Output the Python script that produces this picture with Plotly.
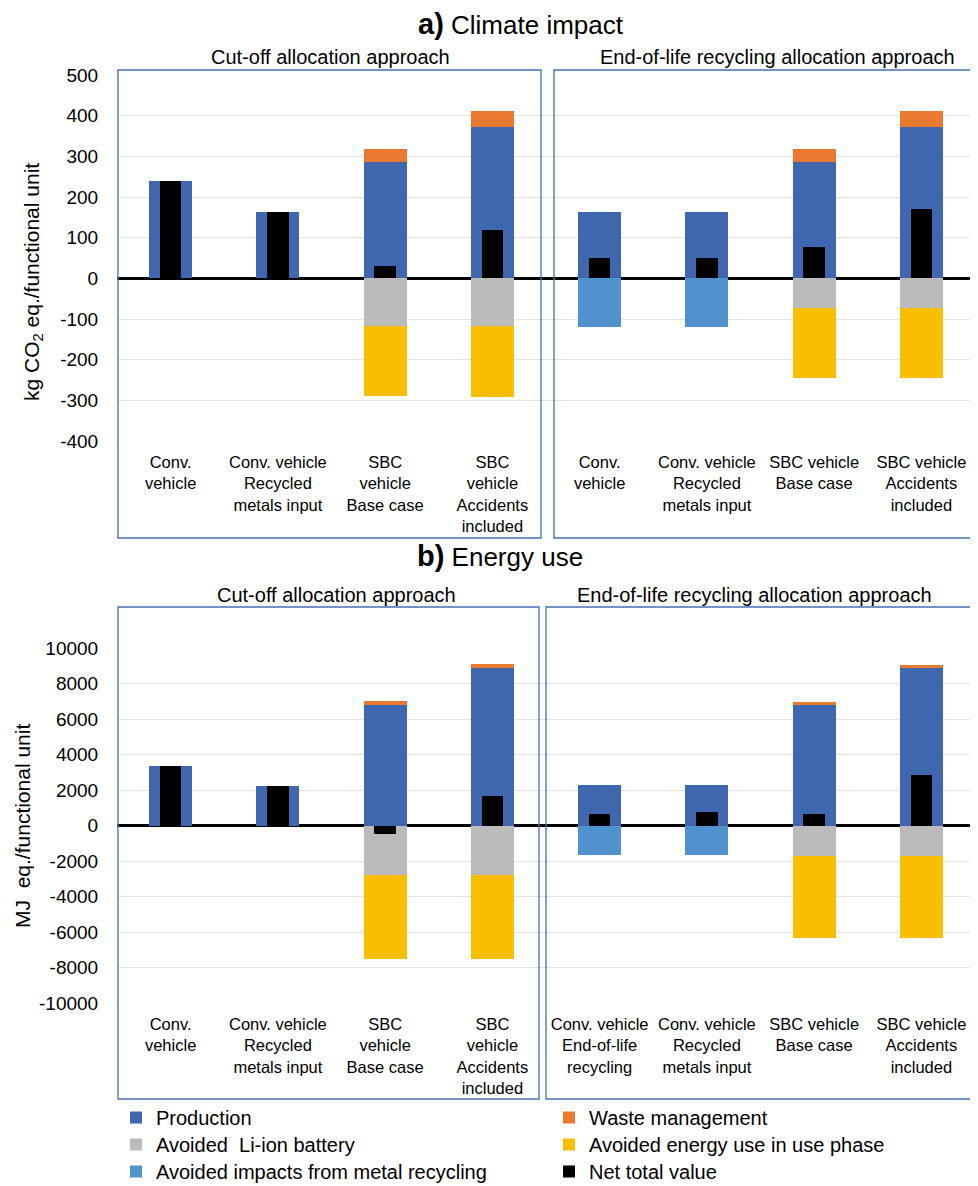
import plotly.graph_objects as go

# page body has an 8px margin, so the figure is 8px smaller and all pixel
# positions (measured on the 978x1186 page) are shifted by that margin
PAGE_OFF = 8
W, H = 978 - PAGE_OFF, 1186 - PAGE_OFF

# ---------------- data ----------------
x_pos = [0, 1, 2, 3, 4, 5, 6, 7]

labels_a = ["Conv.<br>vehicle", "Conv. vehicle<br>Recycled<br>metals input",
            "SBC<br>vehicle<br>Base case", "SBC<br>vehicle<br>Accidents<br>included",
            "Conv.<br>vehicle", "Conv. vehicle<br>Recycled<br>metals input",
            "SBC vehicle<br>Base case", "SBC vehicle<br>Accidents<br>included"]
labels_b = ["Conv.<br>vehicle", "Conv. vehicle<br>Recycled<br>metals input",
            "SBC<br>vehicle<br>Base case", "SBC<br>vehicle<br>Accidents<br>included",
            "Conv. vehicle<br>End-of-life<br>recycling", "Conv. vehicle<br>Recycled<br>metals input",
            "SBC vehicle<br>Base case", "SBC vehicle<br>Accidents<br>included"]

# a) Climate impact (kg CO2 eq./functional unit)
a_production = [240, 163, 285, 371, 163, 163, 285, 371]
a_waste      = [0, 0, 32, 41, 0, 0, 32, 41]
a_liion      = [0, 0, -118, -118, 0, 0, -72, -72]
a_energy     = [0, 0, -172, -174, 0, 0, -173, -173]
a_metal      = [0, 0, 0, 0, -119, -119, 0, 0]
a_net        = [240, 163, 30, 120, 49, 49, 77, 171]

# b) Energy use (MJ eq./functional unit)
b_production = [3380, 2250, 6800, 8900, 2260, 2260, 6780, 8860]
b_waste      = [0, 0, 200, 200, 0, 0, 180, 200]
b_liion      = [0, 0, -2800, -2800, 0, 0, -1720, -1720]
b_energy     = [0, 0, -4700, -4700, 0, 0, -4620, -4620]
b_metal      = [0, 0, 0, 0, -1640, -1640, 0, 0]
b_net        = [3380, 2250, -480, 1650, 660, 780, 660, 2820]

a_ticks = [500, 400, 300, 200, 100, 0, -100, -200, -300, -400]
a_ticktext = ["500", "400", "300", "200", "100", "0", "-100", "-200", "-300", "-400"]
b_ticks = [10000, 8000, 6000, 4000, 2000, 0, -2000, -4000, -6000, -8000, -10000]
b_ticktext = ["10000", "8000", "6000", "4000", "2000", "0", "-2000", "-4000", "-6000", "-8000", "-10000"]

colors = {"Production": "#3e67b0", "Waste management": "#ea7a30",
          "Avoided  Li-ion battery": "#bbbbbb", "Avoided energy use in use phase": "#f8bf00",
          "Avoided impacts from metal recycling": "#4f92cd", "Net total value": "#000000"}
# one legend per entry so the two-column layout can be placed exactly
legend_of = {"Production": "legend", "Avoided  Li-ion battery": "legend2",
             "Avoided impacts from metal recycling": "legend3",
             "Waste management": "legend4", "Avoided energy use in use phase": "legend5",
             "Net total value": "legend6"}
legend_pos = {"legend": (116, 1098), "legend2": (116, 1125), "legend3": (116, 1152),
              "legend4": (549, 1098), "legend5": (549, 1125), "legend6": (549, 1152)}

FONT = "Liberation Sans, Arial, sans-serif"
fig = go.Figure()


def px2x(p):
    return (p - PAGE_OFF) / W


def px2y(p):
    return 1 - (p - PAGE_OFF) / H


def add_panel(prod, waste, liion, energy, metal, net, xa, ya, show):
    zero = [0] * len(prod)
    specs = [
        ("Production", prod, zero, 0.40),
        ("Waste management", waste, prod, 0.40),
        ("Avoided  Li-ion battery", liion, zero, 0.40),
        ("Avoided energy use in use phase", energy, liion, 0.40),
        ("Avoided impacts from metal recycling", metal, zero, 0.40),
        ("Net total value", net, zero, 0.20),
    ]
    for name, vals, base, wd in specs:
        fig.add_trace(go.Bar(
            x=x_pos, y=vals, base=base, width=wd, name=name,
            marker=dict(color=colors[name], line=dict(width=0)),
            xaxis=xa, yaxis=ya, showlegend=show, legend=legend_of[name],
            hoverinfo="skip"))


add_panel(a_production, a_waste, a_liion, a_energy, a_metal, a_net, "x", "y", True)
add_panel(b_production, b_waste, b_liion, b_energy, b_metal, b_net, "x2", "y2", False)

xdom = [px2x(117), px2x(975)]
xfont = dict(family=FONT, size=16.5, color="#000")
yfont = dict(family=FONT, size=19, color="#000")

fig.update_layout(
    width=W, height=H, margin=dict(l=0, r=0, t=0, b=0, autoexpand=False),
    paper_bgcolor="white", plot_bgcolor="white",
    barmode="overlay", bargap=0,
    font=dict(family=FONT, color="#000"),
    xaxis=dict(domain=xdom, range=[-0.5, 7.5], tickvals=x_pos, ticktext=labels_a,
               showgrid=False, zeroline=False, showline=False, ticks="outside", ticklen=6,
               tickcolor="rgba(0,0,0,0)", anchor="y", tickfont=xfont, automargin=False),
    yaxis=dict(domain=[px2y(441), px2y(75)], range=[-400, 500], tickvals=a_ticks,
               ticktext=a_ticktext, showgrid=True, gridcolor="#e3e3e3", gridwidth=1,
               zeroline=True, zerolinecolor="#000", zerolinewidth=2.5, showline=False,
               ticks="outside", ticklen=14, tickcolor="rgba(0,0,0,0)",
               tickfont=yfont, anchor="x", automargin=False),
    xaxis2=dict(domain=xdom, range=[-0.5, 7.5], tickvals=x_pos, ticktext=labels_b,
                showgrid=False, zeroline=False, showline=False, ticks="outside", ticklen=6,
                tickcolor="rgba(0,0,0,0)", anchor="y2", tickfont=xfont, automargin=False),
    yaxis2=dict(domain=[px2y(1003), px2y(648)], range=[-10000, 10000], tickvals=b_ticks,
                ticktext=b_ticktext, showgrid=True, gridcolor="#e3e3e3", gridwidth=1,
                zeroline=True, zerolinecolor="#000", zerolinewidth=2.5, showline=False,
                ticks="outside", ticklen=14, tickcolor="rgba(0,0,0,0)",
                tickfont=yfont, anchor="x2", automargin=False),
)

for key, (lx, ly) in legend_pos.items():
    fig.update_layout({key: dict(x=px2x(lx), y=px2y(ly), xanchor="left", yanchor="top",
                                 orientation="v",
                                 font=dict(family=FONT, size=20, color="#000"),
                                 itemwidth=30, tracegroupgap=0, bgcolor="rgba(0,0,0,0)")})

box_color = "#4a6db3"
boxes = [(118, 70, 541, 538), (554, 70, 971, 538), (118, 607, 539, 1099), (546, 607, 972, 1099)]
for x0, y0, x1, y1 in boxes:
    fig.add_shape(type="rect", xref="paper", yref="paper",
                  x0=px2x(x0), x1=px2x(x1), y0=px2y(y1), y1=px2y(y0),
                  line=dict(color=box_color, width=1.3), fillcolor="rgba(0,0,0,0)", layer="above")

annots = [
    ("<span style='font-size:29px'><b>a)</b></span> Climate impact", 521, 24, 26),
    ("<span style='font-size:29px'><b>b)</b></span> Energy use", 500, 556, 26),
    ("Cut-off allocation approach", 330, 57, 20),
    ("End-of-life recycling allocation approach", 777, 57, 20),
    ("Cut-off allocation approach", 336, 595, 20),
    ("End-of-life recycling allocation approach", 754, 595, 20),
]
for text, xp, yp, sz in annots:
    fig.add_annotation(text=text, xref="paper", yref="paper", x=px2x(xp), y=px2y(yp),
                       xanchor="center", yanchor="middle", showarrow=False,
                       font=dict(family=FONT, size=sz, color="#000"))

fig.add_annotation(text="kg CO<sub>2</sub> eq./functional unit", xref="paper", yref="paper",
                   x=px2x(33), y=px2y(282), textangle=-90, showarrow=False,
                   xanchor="center", yanchor="middle", font=dict(family=FONT, size=21, color="#000"))
fig.add_annotation(text="MJ  eq./functional unit", xref="paper", yref="paper",
                   x=px2x(22), y=px2y(826), textangle=-90, showarrow=False,
                   xanchor="center", yanchor="middle", font=dict(family=FONT, size=21, color="#000"))

fig.write_html("out.html")
